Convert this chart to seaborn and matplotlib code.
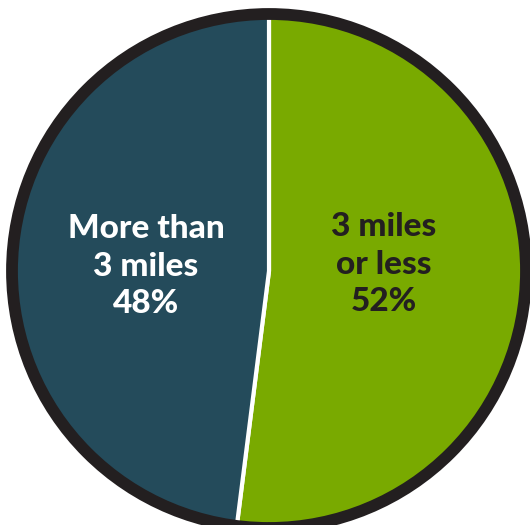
import matplotlib
matplotlib.use("Agg")
import matplotlib.pyplot as plt
import seaborn as sns
from matplotlib.patches import Circle

categories = ["3 miles\nor less", "More than\n3 miles"]
values = [52, 48]
colors = ["#79aa00", "#244b5b"]
text_colors = ["#231f20", "#ffffff"]

sns.set_theme(style="white")
plt.rcParams['font.family'] = ['Lato', 'DejaVu Sans']

W, H = 530, 525
fig = plt.figure(figsize=(W / 100, H / 100), dpi=100)
ax = fig.add_axes([0, 0, 1, 1])
ax.set_xlim(0, W)
ax.set_ylim(0, H)
ax.set_aspect('equal')
ax.axis('off')

cx, cy = 269, H - 271
R = 258
wedges, _ = ax.pie(values, colors=colors, startangle=90, counterclock=False,
                   center=(cx, cy), radius=R, frame=True,
                   wedgeprops=dict(edgecolor="white", linewidth=3))
ax.set_xlim(0, W)
ax.set_ylim(0, H)
ax.axis('off')
ax.add_patch(Circle((cx, cy), R - 1, fill=False, edgecolor="#231f20", linewidth=8.5, zorder=5))

label_pos = [(384, H - 264), (146, H - 266)]
for cat, v, (x, y), tc in zip(categories, values, label_pos, text_colors):
    ax.text(x, y, f"{cat}\n{v}%", ha="center", va="center", color=tc,
            fontsize=24, fontweight="black", linespacing=1.35, zorder=6)

fig.savefig("out.png", dpi=100)
